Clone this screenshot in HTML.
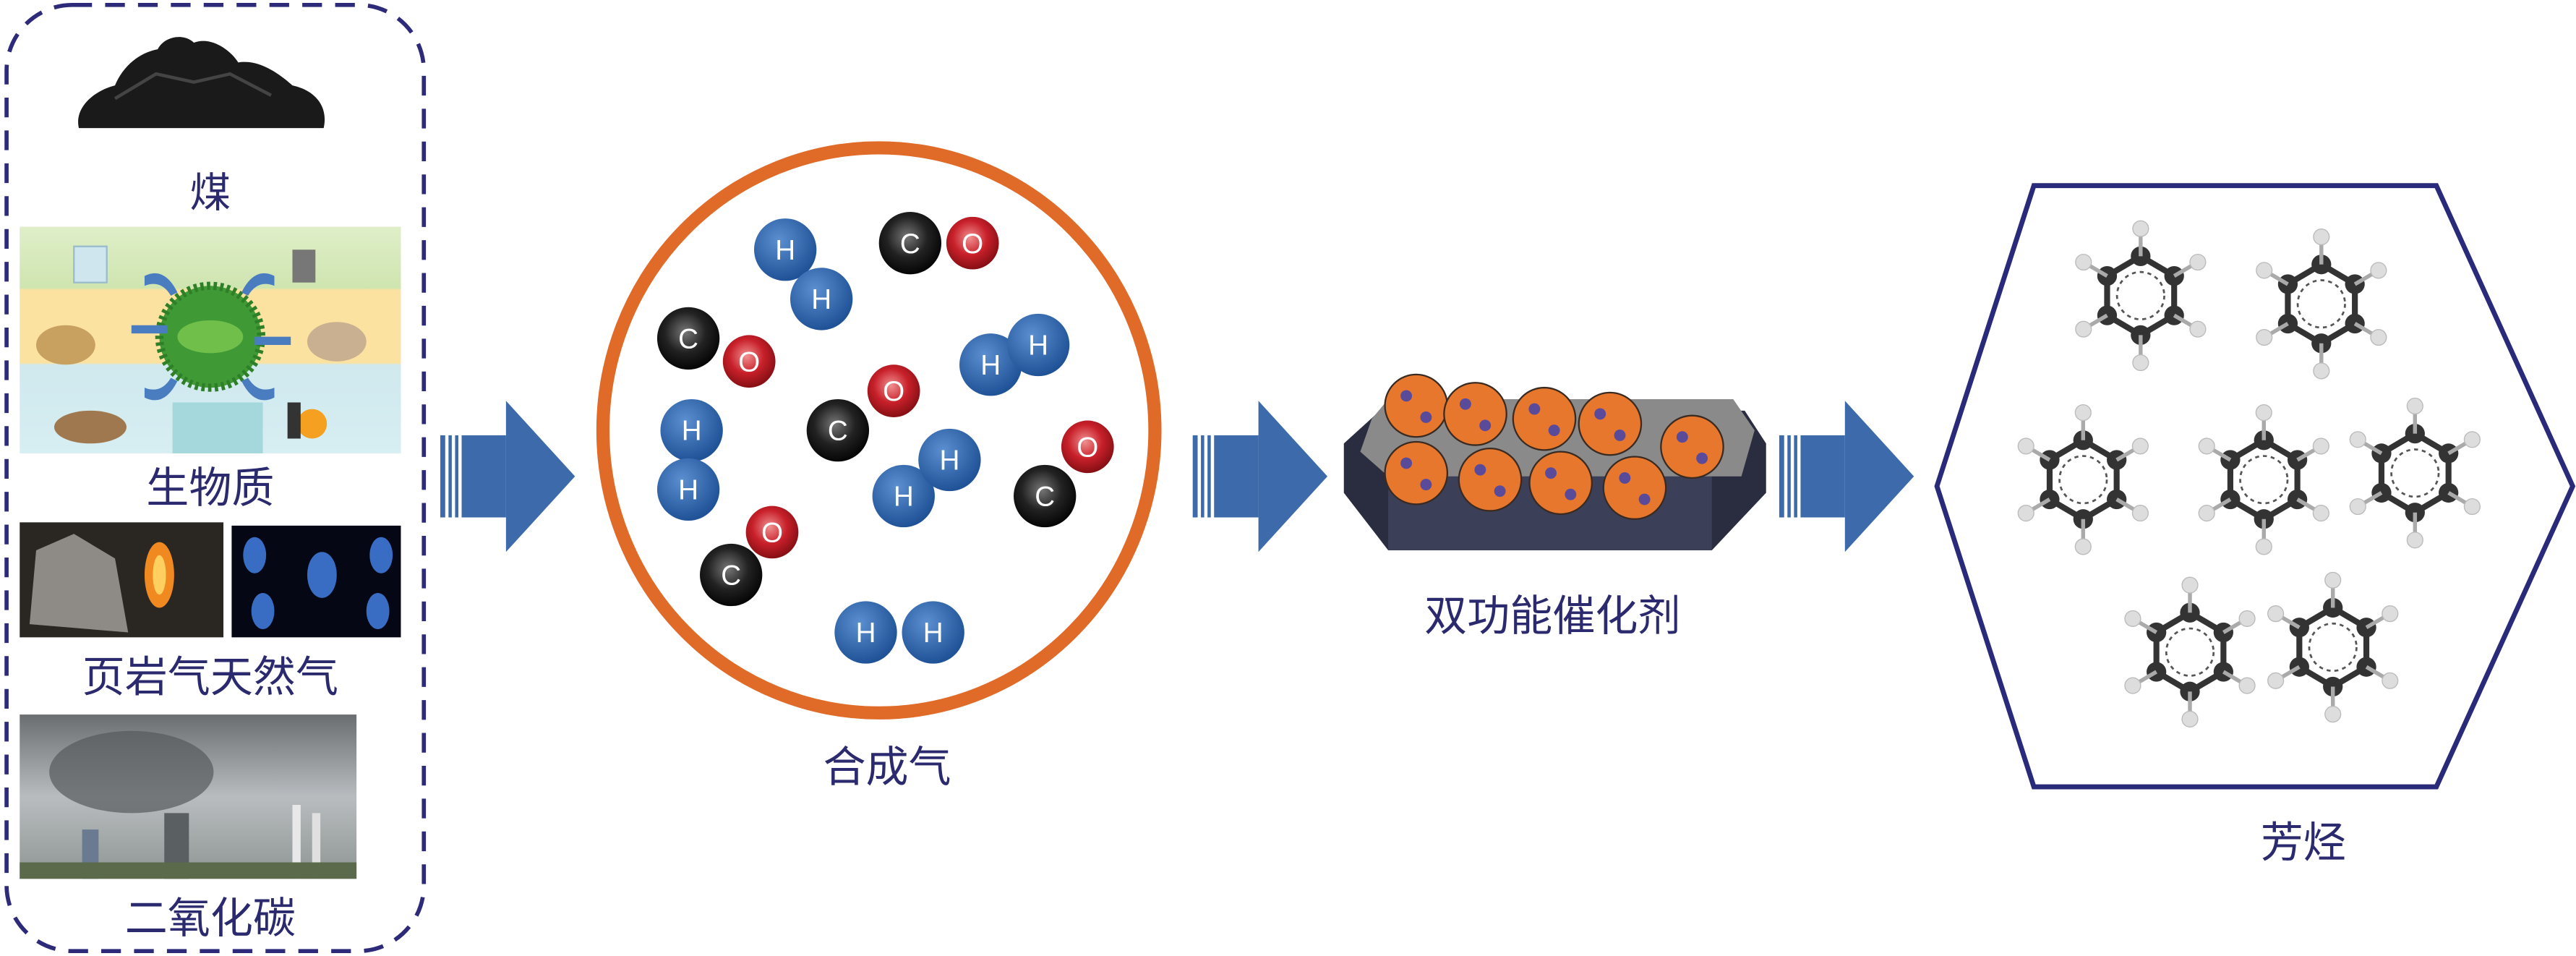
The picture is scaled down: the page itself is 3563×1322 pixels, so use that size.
<!DOCTYPE html>
<html><head><meta charset="utf-8"><style>
html,body{margin:0;padding:0;background:#fff;width:3563px;height:1322px;overflow:hidden}
svg{display:block}
.lb{font-family:"Liberation Sans","Noto Sans CJK SC",sans-serif;fill:#2b2a6e}
.at{font-family:"Liberation Sans",sans-serif;fill:#fff;font-size:17px}
</style></head><body>
<svg width="3563" height="1322" viewBox="0 0 1568 582" preserveAspectRatio="none" xmlns="http://www.w3.org/2000/svg">
<defs>
<radialGradient id="gH" cx="40%" cy="35%" r="65%"><stop offset="0" stop-color="#5b8fd0"/><stop offset="1" stop-color="#1f5296"/></radialGradient>
<radialGradient id="gC" cx="45%" cy="40%" r="65%"><stop offset="0" stop-color="#777"/><stop offset="0.5" stop-color="#222"/><stop offset="1" stop-color="#000"/></radialGradient>
<radialGradient id="gO" cx="45%" cy="40%" r="65%"><stop offset="0" stop-color="#f09090"/><stop offset="0.5" stop-color="#c8202a"/><stop offset="1" stop-color="#7a0c10"/></radialGradient>
<linearGradient id="bio" x1="0" y1="0" x2="0" y2="1">
<stop offset="0" stop-color="#dfeec8"/><stop offset="0.27" stop-color="#cfe5b0"/><stop offset="0.28" stop-color="#fbe2a0"/><stop offset="0.6" stop-color="#fbe2a0"/><stop offset="0.61" stop-color="#cfe9ee"/><stop offset="1" stop-color="#d7eef2"/></linearGradient>
<linearGradient id="sky" x1="0" y1="0" x2="0" y2="1"><stop offset="0" stop-color="#6a6e70"/><stop offset="0.5" stop-color="#b8bcbf"/><stop offset="1" stop-color="#8f9694"/></linearGradient>
<g id="ar"><rect x="0" y="-25" width="3" height="50" fill="#3d6aab"/><rect x="5" y="-25" width="2" height="50" fill="#3d6aab"/><rect x="9" y="-25" width="2" height="50" fill="#3d6aab"/><rect x="13" y="-25" width="27" height="50" fill="#3d6aab"/><polygon points="40,-46 82,0 40,46" fill="#3d6aab"/></g>
<g id="bz0">
<polygon points="0,-20 17,-10 17,10 0,20 -17,10 -17,-10" fill="none" stroke="#333" stroke-width="3"/>
<circle r="12" fill="none" stroke="#555" stroke-width="1" stroke-dasharray="2,2"/>
<g fill="#333"><circle cx="0" cy="-20" r="5"/><circle cx="17" cy="-10" r="5"/><circle cx="17" cy="10" r="5"/><circle cx="0" cy="20" r="5"/><circle cx="-17" cy="10" r="5"/><circle cx="-17" cy="-10" r="5"/></g>
<g stroke="#aaa" stroke-width="2"><line x1="0" y1="-20" x2="0" y2="-34"/><line x1="17" y1="-10" x2="29" y2="-17"/><line x1="17" y1="10" x2="29" y2="17"/><line x1="0" y1="20" x2="0" y2="34"/><line x1="-17" y1="10" x2="-29" y2="17"/><line x1="-17" y1="-10" x2="-29" y2="-17"/></g>
<g fill="#ddd" stroke="#bbb" stroke-width="0.5"><circle cx="0" cy="-34" r="4"/><circle cx="29" cy="-17" r="4"/><circle cx="29" cy="17" r="4"/><circle cx="0" cy="34" r="4"/><circle cx="-29" cy="17" r="4"/><circle cx="-29" cy="-17" r="4"/></g>
</g>
<g id="bz"><use href="#bz0" transform="scale(1.2)"/></g>
<g id="cat"><circle r="19" fill="#e8772e" stroke="#3a2a20" stroke-width="1"/><circle cx="-6" cy="-6" r="3.5" fill="#5a4a9a"/><circle cx="6" cy="7" r="3.5" fill="#5a4a9a"/></g>
</defs>

<rect x="4" y="3" width="254" height="576" rx="40" fill="none" stroke="#2e2a7a" stroke-width="2.5" stroke-dasharray="12,8"/>
<path d="M48,78 C45,65 58,55 70,52 C75,40 85,32 96,30 C100,22 112,20 118,26 C128,22 140,30 145,38 C158,36 170,45 178,52 C192,55 200,65 197,78 Z" fill="#1a1a1a"/>
<path d="M70,60 L95,45 L118,50 L140,45 L165,58" stroke="#444" stroke-width="2" fill="none"/>
<text class="lb" x="128" y="126" font-size="25" text-anchor="middle">煤</text>
<rect x="12" y="138" width="232" height="138" fill="url(#bio)"/>
<rect x="105" y="245" width="55" height="31" fill="#a5d8dc"/>
<circle cx="128" cy="205" r="31" fill="#3f9a35" stroke="#2f7f28" stroke-width="5" stroke-dasharray="2,2"/>
<ellipse cx="128" cy="205" rx="20" ry="10" fill="#6fbf4a"/>
<g fill="#4a7cc0"><rect x="80" y="198" width="22" height="5"/><rect x="155" y="205" width="22" height="5"/><path d="M88,168 q12,-6 20,10 l-4,2 q-6,-10 -16,-6z"/><path d="M167,168 q-12,-6 -20,10 l4,2 q6,-10 16,-6z"/><path d="M88,242 q12,6 20,-10 l-4,-2 q-6,10 -16,6z"/><path d="M167,242 q-12,6 -20,-10 l4,-2 q6,10 16,6z"/></g>
<rect x="45" y="150" width="20" height="22" fill="#cfe6ef" stroke="#9bc" /><rect x="178" y="152" width="14" height="20" fill="#777"/>
<ellipse cx="40" cy="210" rx="18" ry="12" fill="#c8a060"/><ellipse cx="205" cy="208" rx="18" ry="12" fill="#c8b090"/>
<ellipse cx="55" cy="260" rx="22" ry="10" fill="#a07850"/><circle cx="190" cy="258" r="9" fill="#f5a020"/><rect x="175" y="245" width="8" height="22" fill="#333"/>
<text class="lb" x="128" y="306" font-size="26" text-anchor="middle">生物质</text>
<rect x="12" y="318" width="124" height="70" fill="#2a2622"/>
<path d="M18,380 L22,335 L45,325 L70,340 L78,385 Z" fill="#8e8a86"/>
<ellipse cx="97" cy="350" rx="9" ry="20" fill="#f08a20"/><ellipse cx="97" cy="350" rx="4" ry="12" fill="#ffd060"/>
<rect x="141" y="320" width="103" height="68" fill="#050814"/>
<g fill="#3f78d8" opacity="0.9"><ellipse cx="155" cy="338" rx="7" ry="11"/><ellipse cx="196" cy="350" rx="9" ry="14"/><ellipse cx="232" cy="338" rx="7" ry="11"/><ellipse cx="160" cy="372" rx="7" ry="11"/><ellipse cx="230" cy="372" rx="7" ry="11"/></g>
<text class="lb" x="128" y="421" font-size="26" text-anchor="middle">页岩气天然气</text>
<rect x="12" y="435" width="205" height="100" fill="url(#sky)"/>
<ellipse cx="80" cy="470" rx="50" ry="25" fill="#555a5c" opacity="0.7"/>
<rect x="100" y="495" width="15" height="40" fill="#5a5f62"/><rect x="178" y="490" width="5" height="45" fill="#e8e8e8"/><rect x="190" y="495" width="5" height="40" fill="#e0e0e0"/>
<rect x="50" y="505" width="10" height="30" fill="#6a7a90"/><rect x="12" y="525" width="205" height="10" fill="#5a6a4a"/>
<text class="lb" x="128" y="568" font-size="26" text-anchor="middle">二氧化碳</text>

<use href="#ar" x="268" y="290"/>
<use href="#ar" x="726" y="290"/>
<use href="#ar" x="1083" y="290"/>

<ellipse cx="535" cy="262" rx="168" ry="172" fill="#fff" stroke="#e06a28" stroke-width="8"/>
<circle cx="478" cy="152" r="19" fill="url(#gH)"/><circle cx="500" cy="182" r="19" fill="url(#gH)"/>
<circle cx="554" cy="148" r="19" fill="url(#gC)"/><circle cx="592" cy="148" r="16" fill="url(#gO)"/>
<circle cx="419" cy="206" r="19" fill="url(#gC)"/><circle cx="456" cy="220" r="16" fill="url(#gO)"/>
<circle cx="421" cy="262" r="19" fill="url(#gH)"/><circle cx="419" cy="298" r="19" fill="url(#gH)"/>
<circle cx="510" cy="262" r="19" fill="url(#gC)"/><circle cx="544" cy="238" r="16" fill="url(#gO)"/>
<circle cx="603" cy="222" r="19" fill="url(#gH)"/><circle cx="632" cy="210" r="19" fill="url(#gH)"/>
<circle cx="550" cy="302" r="19" fill="url(#gH)"/><circle cx="578" cy="280" r="19" fill="url(#gH)"/>
<circle cx="636" cy="302" r="19" fill="url(#gC)"/><circle cx="662" cy="272" r="16" fill="url(#gO)"/>
<circle cx="445" cy="350" r="19" fill="url(#gC)"/><circle cx="470" cy="324" r="16" fill="url(#gO)"/>
<circle cx="527" cy="385" r="19" fill="url(#gH)"/><circle cx="568" cy="385" r="19" fill="url(#gH)"/>
<g text-anchor="middle"><text class="at" x="478" y="158">H</text><text class="at" x="500" y="188">H</text><text class="at" x="554" y="154">C</text><text class="at" x="592" y="154">O</text><text class="at" x="419" y="212">C</text><text class="at" x="456" y="226">O</text><text class="at" x="421" y="268">H</text><text class="at" x="419" y="304">H</text><text class="at" x="510" y="268">C</text><text class="at" x="544" y="244">O</text><text class="at" x="603" y="228">H</text><text class="at" x="632" y="216">H</text><text class="at" x="550" y="308">H</text><text class="at" x="578" y="286">H</text><text class="at" x="636" y="308">C</text><text class="at" x="662" y="278">O</text><text class="at" x="445" y="356">C</text><text class="at" x="470" y="330">O</text><text class="at" x="527" y="391">H</text><text class="at" x="568" y="391">H</text></g>
<text class="lb" x="540" y="476" font-size="26" text-anchor="middle">合成气</text>

<polygon points="818,270 840,250 1062,250 1075,270 1075,300 1042,335 845,335 818,300" fill="#2a2d40"/>
<rect x="845" y="290" width="197" height="45" fill="#3b3f58"/>
<polygon points="835,255 845,243 1055,243 1068,262 1060,290 845,290 828,275" fill="#8a8a8a"/>
<use href="#cat" x="862" y="247"/><use href="#cat" x="898" y="252"/><use href="#cat" x="940" y="255"/><use href="#cat" x="980" y="258"/><use href="#cat" x="1030" y="272"/>
<use href="#cat" x="862" y="288"/><use href="#cat" x="907" y="292"/><use href="#cat" x="950" y="294"/><use href="#cat" x="995" y="297"/>
<text class="lb" x="945" y="384" font-size="26" text-anchor="middle">双功能催化剂</text>

<polygon points="1238,113 1483,113 1566,296 1483,479 1238,479 1179,296" fill="none" stroke="#2a2a7a" stroke-width="3"/>
<use href="#bz" x="1303" y="180"/>
<use href="#bz" x="1413" y="185"/>
<use href="#bz" x="1268" y="292"/>
<use href="#bz" x="1378" y="292"/>
<use href="#bz" x="1470" y="288"/>
<use href="#bz" x="1333" y="397"/>
<use href="#bz" x="1420" y="394"/>
<text class="lb" x="1402" y="522" font-size="26" text-anchor="middle">芳烃</text>
</svg>
</body></html>
